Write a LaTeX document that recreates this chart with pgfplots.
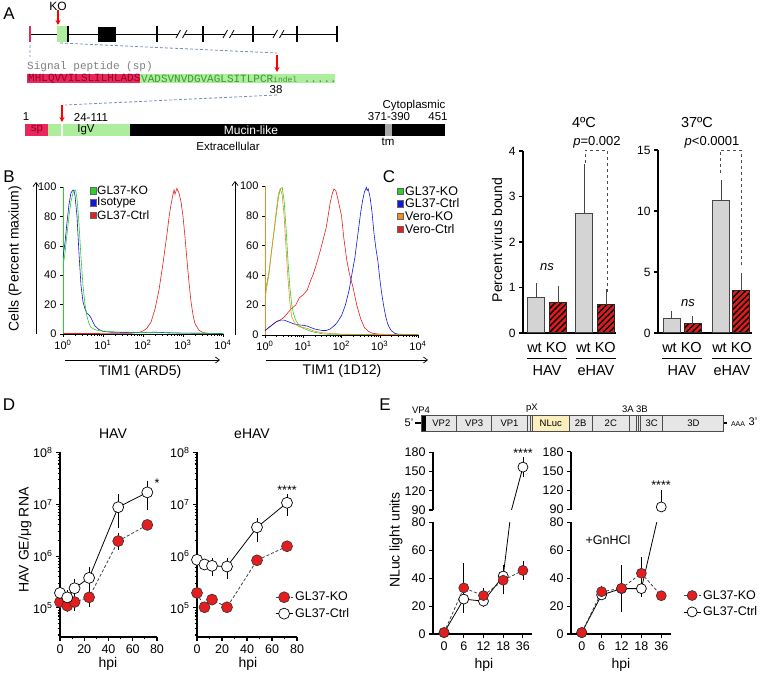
\documentclass[border=0pt]{standalone}
\usepackage{fontspec}
\setmainfont{Liberation Sans}
\newfontfamily\monofont{Liberation Mono}
\usepackage{pgfplots}
\pgfplotsset{compat=1.18}
\usetikzlibrary{arrows.meta,patterns.meta}
\newcommand{\fsz}[1]{\fontsize{#1}{#1}\selectfont}
\definecolor{agreen}{RGB}{172,238,158}
\definecolor{apink}{RGB}{230,40,95}
\definecolor{dkred}{RGB}{150,0,30}
\definecolor{seqgreen}{RGB}{60,150,50}
\definecolor{dashblue}{RGB}{120,140,190}
\definecolor{kored}{RGB}{228,30,30}
\definecolor{barred}{RGB}{222,28,28}
\definecolor{bargray}{RGB}{212,212,212}
\definecolor{nlucyel}{RGB}{253,238,190}
\definecolor{boxgray}{RGB}{230,230,230}
\definecolor{histgreen}{RGB}{40,210,40}
\definecolor{histblue}{RGB}{20,20,220}
\definecolor{histred}{RGB}{230,30,30}
\definecolor{historange}{RGB}{245,140,30}
\pgfplotsset{
  gp/.style={scale only axis, axis x line*=bottom, axis y line*=left,
    x axis line style={-, line width=1.2pt}, y axis line style={-, line width=1.2pt},
    tick style={black, line width=1.1pt},
    tick align=outside, major tick length=4pt, minor tick length=2.5pt,
    tick label style={font=\fsz{12.5}},
    /pgf/number format/assume math mode=true},
  bst/.style={scale only axis, ymin=0, ymax=100,
    axis x line*=bottom, axis y line*=left,
    x axis line style={-, line width=0.6pt},
    tick style={black, line width=0.5pt}, tick align=outside,
    major tick length=3pt, minor tick length=1.8pt,
    xtick={1,10,100,1000,10000},
    xticklabels={{10\textsuperscript{0}},{10\textsuperscript{1}},{10\textsuperscript{2}},{10\textsuperscript{3}},{10\textsuperscript{4}}},
    minor xtick={2,3,4,5,6,7,8,9,20,30,40,50,60,70,80,90,200,300,400,500,600,700,800,900,2000,3000,4000,5000,6000,7000,8000,9000},
    ytick={0,20,40,60,80,100},
    tick label style={font=\fsz{11}},
    /pgf/number format/assume math mode=true, clip=false},
  kost/.style={black!75, dash pattern=on 3pt off 2pt, line width=0.8pt, mark=*, mark size=#1,
    mark options={solid, fill=kored, draw=black!80, line width=0.6pt}},
  ctst/.style={black, line width=0.8pt, mark=*, mark size=#1,
    mark options={solid, fill=white, draw=black, line width=0.7pt}},
  eb/.style={error bars/.cd, y dir=both, y explicit,
    error bar style={solid, black, line width=0.8pt},
    error mark options={solid, black, line width=0.8pt, mark size=3pt}},
}
\begin{document}
\begin{tikzpicture}[x=1pt,y=1pt]
\useasboundingbox (0pt,0pt) rectangle (760pt,674pt);
% ---------------- background annotations in pixel coordinates
\begin{axis}[at={(0pt,0pt)}, anchor=south west, scale only axis, width=760pt, height=674pt,
  xmin=0, xmax=760, ymin=0, ymax=674, y dir=reverse, axis lines=none, clip=false]
% Panel A
\node[font=\fsz{17}] at (9,14) {A};
\node[font=\fsz{12}] at (58,6) {KO};
\draw[red, line width=1.3pt, -{Stealth[length=5pt,width=5pt]}] (58,10) -- (58,25);
\draw[line width=0.8pt] (30,34)--(178,34) (185,34)--(225,34) (232,34)--(275,34) (282,34)--(337,34);
\draw[line width=0.8pt] (176,38)--(180.5,30) (182.5,38)--(187,30) (223,38)--(227.5,30) (229.5,38)--(234,30) (273,38)--(277.5,30) (279.5,38)--(284,30);
\fill[agreen] (57,26) rectangle (68,42);
\draw[apink, line width=1.5pt] (30,26)--(30,42);
\draw[line width=1.5pt] (68,26)--(68,42);
\draw[line width=1.2pt] (157,26)--(157,42) (203,26)--(203,42) (297,26)--(297,42);
\draw[line width=2pt] (253,26)--(253,42);
\draw[line width=2.5pt] (337,26)--(337,42);
\fill (98,27) rectangle (116,42);
\draw[dashblue, dash pattern=on 3pt off 2pt, line width=0.8pt] (30,45)--(30,57) (60,43)--(277,53) (277,95)--(65,105);
\draw[red, line width=1.3pt, -{Stealth[length=5pt,width=5pt]}] (277,55) -- (277,72);
\draw[red, line width=1.3pt, -{Stealth[length=5pt,width=5pt]}] (62,105) -- (62,122);
\node[anchor=west, inner sep=0, font=\monofont\fsz{11}, text=gray] at (27,67) {Signal peptide (sp)};
\fill[apink] (27,74) rectangle (140,83);
\fill[agreen] (140,74) rectangle (335,83);
\node[anchor=west, inner sep=0, font=\monofont\fsz{11}, text=dkred] at (28,79) {MHLQVVILSLILHLADS};
\node[anchor=west, inner sep=0, font=\monofont\fsz{11}, text=seqgreen] at (141,79) {VADSVNVDGVAGLSITLPCR{\fsz{8}indel} .....};
\node[font=\fsz{11.5}] at (276,90) {38};
\fill (25,124) rectangle (445,136);
\fill[apink] (25,124) rectangle (48,136);
\fill[agreen] (48,124) rectangle (130,136);
\draw[white, line width=1.5pt] (62,124)--(62,136);
\fill[gray!70] (385,124) rectangle (392,136);
\node[font=\fsz{11.5}] at (26,117) {1};
\node[font=\fsz{11.5}] at (91,117) {24-111};
\node[font=\fsz{11.5}] at (389,117) {371-390};
\node[font=\fsz{11.5}] at (438,117) {451};
\node[font=\fsz{11.5}] at (414,106) {Cytoplasmic};
\node[font=\fsz{11.5}, text=dkred] at (37,130) {sp};
\node[font=\fsz{11.5}] at (86,130) {IgV};
\node[font=\fsz{12}, text=white] at (251,130) {Mucin-like};
\node[font=\fsz{11.5}] at (228,146) {Extracellular};
\node[font=\fsz{11.5}] at (388,142) {tm};
% Panel B
\node[font=\fsz{17}] at (9,177) {B};
\draw[line width=0.7pt, -{Straight Barb[length=4pt,width=6pt]}] (36,334) -- (36,182);
\draw[line width=0.7pt, -{Straight Barb[length=4pt,width=6pt]}] (235,335) -- (235,181);
\draw[line width=0.7pt, -{Straight Barb[length=4pt,width=6pt]}] (65,360) -- (220,360);
\draw[line width=0.7pt, -{Straight Barb[length=4pt,width=6pt]}] (266,360) -- (428,360);
\node[rotate=90, font=\fsz{14}] at (15,259) {Cells (Percent maxium)};
\node[font=\fsz{14}] at (140,372) {TIM1 (ARD5)};
\node[font=\fsz{14}] at (342,371) {TIM1 (1D12)};
\filldraw[fill=histgreen, draw=black!60, line width=0.4pt] (90,187.5) rectangle (96,194);
\filldraw[fill=histblue, draw=black!60, line width=0.4pt] (90,199.5) rectangle (96,206);
\filldraw[fill=histred, draw=black!60, line width=0.4pt] (90,211.8) rectangle (96,218.3);
\node[anchor=west, inner sep=0, font=\fsz{12}] at (97,190.7) {GL37-KO};
\node[anchor=west, inner sep=0, font=\fsz{12}] at (97,203) {Isotype};
\node[anchor=west, inner sep=0, font=\fsz{12}] at (97,215.3) {GL37-Ctrl};
\filldraw[fill=histgreen, draw=black!60, line width=0.4pt] (397,187.8) rectangle (403,194.3);
\filldraw[fill=histblue, draw=black!60, line width=0.4pt] (397,200.3) rectangle (403,206.8);
\filldraw[fill=historange, draw=black!60, line width=0.4pt] (397,212.8) rectangle (403,219.3);
\filldraw[fill=histred, draw=black!60, line width=0.4pt] (397,226) rectangle (403,232.5);
\node[anchor=west, inner sep=0, font=\fsz{12.5}] at (405,191) {GL37-KO};
\node[anchor=west, inner sep=0, font=\fsz{12.5}] at (405,203.5) {GL37-Ctrl};
\node[anchor=west, inner sep=0, font=\fsz{12.5}] at (405,216) {Vero-KO};
\node[anchor=west, inner sep=0, font=\fsz{12.5}] at (405,229.3) {Vero-Ctrl};
% Panel C
\node[font=\fsz{17}] at (389,177) {C};
\node[font=\fsz{14.5}] at (584,123) {4ºC};
\node[font=\fsz{14.5}] at (697,123) {37ºC};
\node[rotate=90, font=\fsz{14}] at (497,240) {Percent virus bound};
\node[font=\fsz{13}] at (547,267) {\textit{ns}};
\node[font=\fsz{13}] at (688,303) {\textit{ns}};
\node[font=\fsz{13}] at (597,142) {\textit{p}=0.002};
\node[font=\fsz{13}] at (712,142) {\textit{p}<0.0001};
\draw[dashed, gray!60!black, line width=0.6pt] (585,163)--(585,150)--(607,150)--(607,293);
\draw[dashed, gray!60!black, line width=0.6pt] (720,173)--(720,150)--(741,150)--(741,268);
\node[font=\fsz{14.5}] at (547,348) {wt KO};
\node[font=\fsz{14.5}] at (596,348) {wt KO};
\node[font=\fsz{14.5}] at (682,348) {wt KO};
\node[font=\fsz{14.5}] at (732,348) {wt KO};
\draw[line width=0.9pt] (527,358)--(567,358) (576,358)--(616,358) (662,358)--(702,358) (712,358)--(752,358);
\node[font=\fsz{14.5}] at (547,371) {HAV};
\node[font=\fsz{14.5}] at (596,371) {eHAV};
\node[font=\fsz{14.5}] at (682,371) {HAV};
\node[font=\fsz{14.5}] at (732,371) {eHAV};
% Panel D
\node[font=\fsz{17}] at (9,405) {D};
\node[font=\fsz{14}] at (113,434) {HAV};
\node[font=\fsz{14}] at (252,434) {eHAV};
\node[rotate=90, font=\fsz{14}] at (25,540) {HAV GE/μg RNA};
\node[font=\fsz{14}] at (108,664) {hpi};
\node[font=\fsz{14}] at (248,664) {hpi};
\node[font=\fsz{12.5}] at (157,483) {*};
\node[font=\fsz{12.5}] at (287,490) {****};
% Panel E
\node[font=\fsz{17}] at (385,405) {E};
\draw[line width=1.2pt] (415,423)--(421,423);
\draw[line width=1.2pt] (723,423)--(727,423);
\filldraw[fill=boxgray, draw=black!70, line width=0.8pt] (421,415) rectangle (723,431.7);
\fill[nlucyel] (532.7,415.4) rectangle (569,431.3);
\fill[black] (421,415) rectangle (426,431.7);
\draw[black!70, line width=0.7pt] (456.7,415)--(456.7,431.7) (491.7,415)--(491.7,431.7) (527.3,415)--(527.3,431.7) (530,415)--(530,431.7) (532.7,415)--(532.7,431.7) (569,415)--(569,431.7) (592.3,415)--(592.3,431.7) (629.3,415)--(629.3,431.7) (636.7,415)--(636.7,431.7) (638.5,415)--(638.5,431.7) (640.7,415)--(640.7,431.7) (662.7,415)--(662.7,431.7);
\draw[black!70, line width=0.8pt] (421,415) rectangle (723,431.7);
\node[font=\fsz{9.5}] at (441.3,423.5) {VP2};
\node[font=\fsz{9.5}] at (474.2,423.5) {VP3};
\node[font=\fsz{9.5}] at (509.5,423.5) {VP1};
\node[font=\fsz{9.5}] at (550.8,423.5) {NLuc};
\node[font=\fsz{9.5}] at (580.7,423.5) {2B};
\node[font=\fsz{9.5}] at (610.8,423.5) {2C};
\node[font=\fsz{9.5}] at (651.7,423.5) {3C};
\node[font=\fsz{9.5}] at (693.5,423.5) {3D};
\node[font=\fsz{9.5}] at (421,410) {VP4};
\node[font=\fsz{9.5}] at (532,408.5) {pX};
\node[font=\fsz{9.5}] at (628,409.5) {3A};
\node[font=\fsz{9.5}] at (642,409.5) {3B};
\node[font=\fsz{11}] at (409,423) {5'};
\node[font=\fsz{7}] at (738,424) {AAA};
\node[font=\fsz{11}] at (753,422) {3'};
\node[rotate=90, font=\fsz{14}] at (396,540) {NLuc light units};
\node[font=\fsz{14}] at (484,665) {hpi};
\node[font=\fsz{14}] at (621,665) {hpi};
\node[font=\fsz{12.5}] at (523,453) {****};
\node[font=\fsz{12.5}] at (661,485) {****};
\node[font=\fsz{12.5}] at (608,540) {+GnHCl};
% broken y axis lines for E
\draw[line width=1.2pt] (433,634.5)--(433,522.3) (433,510)--(433,452.4);
\draw[line width=1.2pt] (571,634.5)--(571,522.3) (571,509.5)--(571,451.9);
\end{axis}
% ---------------- Panel B left
\begin{axis}[xmode=log, xmin=1, xmax=10000, bst, at={(63pt,340pt)}, anchor=south west, width=160pt, height=147pt,
  y axis line style={-, histgreen, line width=0.9pt}]
\addplot[histred, line width=0.6pt] coordinates {(1,0.3)(20,0.4)(50,0.5)(79,1)(100,2)(126,4)(158,8)(200,17)(251,30)(316,48)(398,68)(450,80)(501,88)(562,95)(600,98)(631,95)(700,99)(794,96)(891,90)(1000,80)(1122,66)(1259,50)(1413,35)(1585,22)(1778,13)(1995,7)(2512,2.5)(3162,1)(3981,0.5)(10000,0.2)};
\addplot[histblue, line width=0.6pt] coordinates {(1,52)(1.12,62)(1.26,76)(1.41,88)(1.58,96)(1.78,98)(1.9,97)(2.0,94)(2.24,80)(2.51,55)(2.82,33)(3.16,22)(3.55,17)(3.98,14)(4.47,13)(5.01,11)(5.62,8)(6.31,5.5)(7.94,3)(10,1.8)(15.8,1.2)(31.6,1)(100,1)(200,1.2)(500,0.8)(1000,0.6)(10000,0.3)};
\addplot[histgreen, line width=0.6pt] coordinates {(1,46)(1.12,55)(1.26,68)(1.41,80)(1.58,90)(1.78,96)(2.0,98)(2.1,97)(2.24,92)(2.51,75)(2.82,52)(3.16,33)(3.55,20)(3.98,12)(4.47,7)(5.01,4.5)(6.31,3)(7.94,2.3)(10,2)(15.8,1.6)(25,1.3)(50,1.2)(100,1)(200,0.8)(1000,0.6)(10000,0.4)};
\end{axis}
% ---------------- Panel B right
\begin{axis}[xmode=log, xmin=1, xmax=10000, bst, at={(265pt,339pt)}, anchor=south west, width=153pt, height=149pt,
  y axis line style={-, historange, line width=0.9pt}]
\addplot[histred, line width=0.6pt] coordinates {(1,3)(1.26,5)(1.58,7)(2.0,9)(2.51,10)(3.16,12)(3.98,15)(5.01,18)(6.31,20)(7.94,25)(10,27)(12.6,30)(15.8,37)(17.8,40)(22.4,48)(28.2,57)(31.6,62)(39.8,72)(44.7,80)(50.1,88)(56.2,94)(63.1,98)(70.8,97)(79.4,92)(89,86)(100,80)(115,65)(138,50)(158,42)(200,32)(251,20)(316,11)(398,5)(501,2.5)(631,1.2)(1000,0.5)(10000,0.2)};
\addplot[histblue, line width=0.6pt] coordinates {(1,3)(1.26,5)(1.58,7)(2.0,9)(2.51,10)(3.16,10)(3.98,9)(5.01,8)(6.31,7)(10,6.5)(12.6,6)(15.8,5)(20,4)(25.1,3.5)(31.6,3)(39.8,3)(50.1,4)(63.1,6)(75,8)(100,13)(126,20)(158,30)(200,45)(224,52)(251,62)(282,72)(316,82)(355,90)(398,96)(447,99)(470,97)(501,98)(562,92)(631,82)(708,68)(794,58)(891,50)(1000,38)(1122,28)(1259,20)(1413,13)(1585,8)(1778,5)(1995,3)(2512,1)(3162,0.5)(10000,0.2)};
\addplot[histgreen, line width=0.6pt] coordinates {(1,28)(1.26,42)(1.58,62)(2.0,82)(2.24,92)(2.51,98)(2.82,99)(3.16,90)(3.55,72)(3.98,50)(4.47,32)(5.01,20)(5.62,14)(6.31,10)(7.94,6)(10,4.5)(12.6,3.5)(15.8,2.5)(20,1.8)(31.6,0.8)(50,0.4)(10000,0.2)};
\addplot[historange, line width=0.6pt] coordinates {(1,25)(1.26,40)(1.58,62)(2.0,85)(2.24,95)(2.51,98)(2.82,94)(3.16,80)(3.55,58)(3.98,38)(4.47,22)(5.01,12)(6.31,7)(7.94,5.5)(10,5)(12.6,4.5)(15.8,3.5)(20,2.5)(31.6,1.5)(50,1)(79,0.8)(100,0.5)(10000,0.2)};
\end{axis}
% ---------------- Panel C left (4 C)
\begin{axis}[gp, at={(523pt,341pt)}, anchor=south west, width=93pt, height=182pt,
  xmin=0, xmax=93, ymin=0, ymax=4, ytick={0,1,2,3,4}, xtick=\empty, tick label style={font=\fsz{12}}, clip=false]
\addplot[ybar, bar width=17pt, bar shift=0pt, fill=bargray, draw=gray!55!black, line width=1pt,
  error bars/.cd, y dir=plus, y explicit, error bar style={gray!55!black, line width=1pt},
  error mark options={gray!55!black, line width=1pt, mark size=4pt}]
  coordinates {(13,0.78) +- (0,0.23) (61,2.62) +- (0,1.0)};
\addplot[ybar, bar width=17pt, bar shift=0pt, fill=barred, draw=black!85, line width=1pt,
  postaction={pattern color=black, pattern={Lines[angle=45,distance=4.2pt,line width=1.4pt]}},
  error bars/.cd, y dir=plus, y explicit, error bar style={black!70, line width=1pt},
  error mark options={black!70, line width=1pt, mark size=4pt}]
  coordinates {(35,0.67) +- (0,0.27) (83,0.62) +- (0,0.25)};
\end{axis}
% ---------------- Panel C right (37 C)
\begin{axis}[gp, at={(658pt,341pt)}, anchor=south west, width=94pt, height=183pt,
  xmin=0, xmax=94, ymin=0, ymax=15, ytick={0,5,10,15}, xtick=\empty, tick label style={font=\fsz{12}}, clip=false]
\addplot[ybar, bar width=17pt, bar shift=0pt, fill=bargray, draw=gray!55!black, line width=1pt,
  error bars/.cd, y dir=plus, y explicit, error bar style={gray!55!black, line width=1pt},
  error mark options={gray!55!black, line width=1pt, mark size=4pt}]
  coordinates {(13.5,1.17) +- (0,0.27) (63,10.85) +- (0,1.4)};
\addplot[ybar, bar width=17pt, bar shift=0pt, fill=barred, draw=black!85, line width=1pt,
  postaction={pattern color=black, pattern={Lines[angle=45,distance=4.2pt,line width=1.4pt]}},
  error bars/.cd, y dir=plus, y explicit, error bar style={black!70, line width=1pt},
  error mark options={black!70, line width=1pt, mark size=4pt}]
  coordinates {(34.5,0.74) +- (0,0.29) (83,3.46) +- (0,1.12)};
\end{axis}
% ---------------- Panel D left (HAV)
\begin{axis}[gp, at={(60pt,37pt)}, anchor=south west, width=97pt, height=184.5pt,
  xmin=0, xmax=80, ymode=log, ymin=2.75e4, ymax=1e8, xtick={0,20,40,60,80}, minor x tick num=1,
  ytick={1e5,1e6,1e7,1e8},
  yticklabels={{10\textsuperscript{5}},{10\textsuperscript{6}},{10\textsuperscript{7}},{10\textsuperscript{8}}},
  minor ytick={3e4,4e4,5e4,6e4,7e4,8e4,9e4,2e5,3e5,4e5,5e5,6e5,7e5,8e5,9e5,2e6,3e6,4e6,5e6,6e6,7e6,8e6,9e6,2e7,3e7,4e7,5e7,6e7,7e7,8e7,9e7},
  clip=false]
\addplot[kost=5.5pt, eb] table[x=t, y=v, y error plus=ep, y error minus=em, row sep=\\] {
t v ep em \\
0 1.3e5 2e4 2e4 \\
6 1.1e5 1.5e4 1.5e4 \\
12 1.3e5 3e4 3e4 \\
24 1.6e5 4.5e4 4e4 \\
48 1.95e6 5.5e5 4.5e5 \\
72 4e6 3e5 3e5 \\
};
\addplot[ctst=5.5pt, eb] table[x=t, y=v, y error plus=ep, y error minus=em, row sep=\\] {
t v ep em \\
0 1.95e5 6.5e4 4e4 \\
6 1.6e5 3e4 3e4 \\
12 2.4e5 8e4 7e4 \\
24 3.8e5 1.6e5 1.35e5 \\
48 8.8e6 5e6 4.8e6 \\
72 1.7e7 7.5e6 8.3e6 \\
};
\end{axis}
% ---------------- Panel D right (eHAV)
\begin{axis}[gp, at={(197pt,37pt)}, anchor=south west, width=100pt, height=184.5pt,
  xmin=0, xmax=80, ymode=log, ymin=2.75e4, ymax=1e8, xtick={0,20,40,60,80}, minor x tick num=1,
  ytick={1e5,1e6,1e7,1e8},
  yticklabels={{10\textsuperscript{5}},{10\textsuperscript{6}},{10\textsuperscript{7}},{10\textsuperscript{8}}},
  minor ytick={3e4,4e4,5e4,6e4,7e4,8e4,9e4,2e5,3e5,4e5,5e5,6e5,7e5,8e5,9e5,2e6,3e6,4e6,5e6,6e6,7e6,8e6,9e6,2e7,3e7,4e7,5e7,6e7,7e7,8e7,9e7},
  clip=false,
  legend style={draw=none, fill=none, at={(axis description cs:0.78,0.255)}, anchor=north west, font=\fsz{12.5}, inner sep=0pt, row sep=2pt},
  legend cell align=left]
\addplot[kost=5.5pt, eb] table[x=t, y=v, y error plus=ep, y error minus=em, row sep=\\] {
t v ep em \\
0 1.95e5 5e4 2.5e4 \\
6 1.03e5 5e3 5e3 \\
12 1.45e5 1.5e4 1.5e4 \\
24 1.03e5 5e3 5e3 \\
48 8.3e5 5e4 5e4 \\
72 1.55e6 2e5 2e5 \\
};
\addlegendentry{GL37-KO}
\addplot[ctst=5.5pt, eb] table[x=t, y=v, y error plus=ep, y error minus=em, row sep=\\] {
t v ep em \\
0 8.5e5 5e4 5e4 \\
6 6.9e5 3e4 3e4 \\
12 6.5e5 1.4e5 1.7e5 \\
24 6.3e5 1.6e5 2.1e5 \\
48 3.6e6 1.1e6 1.5e6 \\
72 1.07e7 3e6 3.8e6 \\
};
\addlegendentry{GL37-Ctrl}
\end{axis}
% ---------------- Panel E left, lower segment
\begin{axis}[gp, at={(433pt,40pt)}, anchor=south west, width=99pt, height=111.7pt,
  xmin=-0.56, xmax=4.46, ymin=0, ymax=80, ytick={0,20,40,60,80},
  xtick={0,1,2,3,4}, xticklabels={0,6,12,18,36}, y axis line style={draw=none}]
\addplot[black, line width=0.8pt, forget plot] coordinates {(3,41.5) (4,157)};
\addplot[ctst=5pt, eb] table[x=x, y=y, y error=e, row sep=\\] {
x y e \\
0 1 0 \\
1 25 6.5 \\
2 23.5 2 \\
3 41.5 6 \\
};
\addplot[kost=5pt, eb] table[x=x, y=y, y error=e, row sep=\\] {
x y e \\
0 1 0 \\
1 33 15.7 \\
2 27.5 3 \\
3 38.5 8 \\
4 45.5 4.5 \\
};
\end{axis}
% ---------------- Panel E left, upper segment
\begin{axis}[gp, at={(433pt,164pt)}, anchor=south west, width=99pt, height=57.6pt,
  xmin=-0.56, xmax=4.46, ymin=90, ymax=180, ytick={90,120,150,180},
  axis x line=none, xtick=\empty, y axis line style={draw=none}]
\addplot[black, line width=0.8pt, forget plot] coordinates {(3,41.5) (4,157)};
\addplot[ctst=5pt, eb] table[x=x, y=y, y error=e, row sep=\\] {
x y e \\
4 157 11 \\
};
\end{axis}
% ---------------- Panel E right, lower segment
\begin{axis}[gp, at={(571pt,40pt)}, anchor=south west, width=100pt, height=111.7pt,
  xmin=-0.54, xmax=4.49, ymin=0, ymax=80, ytick={0,20,40,60,80},
  xtick={0,1,2,3,4}, xticklabels={0,6,12,18,36}, y axis line style={draw=none},
  legend style={draw=none, fill=none, at={(axis description cs:1.12,0.41)}, anchor=north west, font=\fsz{12.5}, inner sep=0pt, row sep=2pt},
  legend cell align=left, reverse legend]
\addplot[black, line width=0.8pt, forget plot] coordinates {(3,32.5) (4,94)};
\addplot[ctst=5pt, eb] table[x=x, y=y, y error=e, row sep=\\] {
x y e \\
0 1 0 \\
1 28 1.5 \\
2 32.5 1 \\
3 32.5 3.5 \\
};
\addlegendentry{GL37-Ctrl}
\addplot[kost=5pt, eb] table[x=x, y=y, y error=e, row sep=\\] {
x y e \\
0 1 0 \\
1 30.3 2 \\
2 32.7 14.5 \\
3 43.5 9.5 \\
4 27.4 1 \\
};
\addlegendentry{GL37-KO}
\end{axis}
% ---------------- Panel E right, upper segment
\begin{axis}[gp, at={(571pt,164.5pt)}, anchor=south west, width=100pt, height=57.6pt,
  xmin=-0.54, xmax=4.49, ymin=90, ymax=180, ytick={90,120,150,180},
  axis x line=none, xtick=\empty, y axis line style={draw=none}]
\addplot[black, line width=0.8pt, forget plot] coordinates {(3,32.5) (4,94)};
\addplot[ctst=5pt, error bars/.cd, y dir=plus, y explicit,
    error bar style={solid, black, line width=0.8pt},
    error mark options={solid, black, line width=0.8pt, mark size=3pt}] table[x=x, y=y, y error=e, row sep=\\] {
x y e \\
4 94 21 \\
};
\end{axis}
\end{tikzpicture}
\end{document}
